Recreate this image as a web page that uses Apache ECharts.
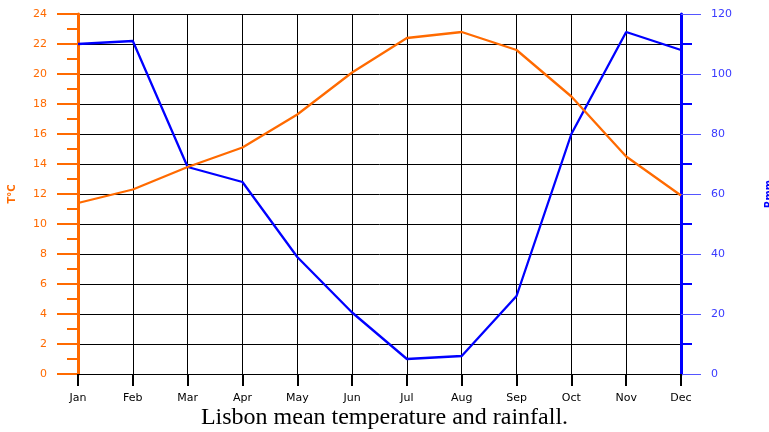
<!DOCTYPE html>
<html>
<head>
<meta charset="utf-8">
<script src="https://cdn.jsdelivr.net/npm/echarts@6/dist/echarts.min.js"></script>
<style>html,body{margin:0;padding:0;background:#fff;}#c{width:769px;height:432px;}</style>
</head>
<body>
<div id="c"></div>
<script>
var months = ['Jan','Feb','Mar','Apr','May','Jun','Jul','Aug','Sep','Oct','Nov','Dec'];
var temperature = [11.4, 12.3, 13.8, 15.1, 17.3, 20.1, 22.4, 22.8, 21.6, 18.5, 14.5, 11.9];
var rainfall = [110, 111, 69, 64, 39, 20.5, 5, 6, 26, 80, 114, 108];
var titleText = 'Lisbon mean temperature and rainfall.';

var ORANGE = '#ff6a00', BLUE = '#0000ff';
var chart = echarts.init(document.getElementById('c'), null, {renderer: 'canvas'});
chart.setOption({
  animation: false,
  backgroundColor: '#fff',
  title: {
    text: titleText, left: 'center', top: 401,
    textStyle: {fontFamily: 'Liberation Serif', fontSize: 24, fontWeight: 'normal', color: '#000'}
  },
  grid: {left: 78, right: 88, top: 14, bottom: 58, containLabel: false, outerBoundsMode: 'none'},
  xAxis: {
    type: 'category', data: months, boundaryGap: false,
    axisLine: {lineStyle: {color: '#000', width: 1}},
    axisTick: {show: true, length: 12, lineStyle: {color: '#000', width: 2}},
    axisLabel: {color: '#000', fontFamily: 'DejaVu Sans', fontSize: 11, margin: 19, interval: 0},
    splitLine: {show: true, lineStyle: {color: '#000', width: 1}}
  },
  yAxis: [{
    type: 'value', position: 'left', min: 0, max: 24, interval: 2,
    name: 'T°C', nameLocation: 'middle', nameRotate: 90, nameGap: 61,
    nameTextStyle: {color: ORANGE, fontFamily: 'DejaVu Sans', fontSize: 10, fontWeight: 'bold'},
    axisLine: {show: true, lineStyle: {color: ORANGE, width: 3}},
    axisTick: {show: true, length: 21, lineStyle: {color: ORANGE, width: 2}},
    minorTick: {show: true, splitNumber: 2, length: 11, lineStyle: {color: ORANGE, width: 2}},
    axisLabel: {color: ORANGE, fontFamily: 'DejaVu Sans', fontSize: 11, margin: 31},
    splitLine: {show: true, lineStyle: {color: '#000', width: 1}}
  }, {
    type: 'value', position: 'right', min: 0, max: 120, interval: 20,
    name: 'Rmm', nameLocation: 'middle', nameRotate: 90, nameGap: 83,
    nameTextStyle: {color: BLUE, fontFamily: 'DejaVu Sans', fontSize: 10, fontWeight: 'bold'},
    axisLine: {show: true, lineStyle: {color: BLUE, width: 3}},
    axisTick: {show: true, length: 20, lineStyle: {color: '#5555ff', width: 1}},
    minorTick: {show: true, splitNumber: 2, length: 11, lineStyle: {color: BLUE, width: 2}},
    axisLabel: {color: '#3a3aff', fontFamily: 'DejaVu Sans', fontSize: 11, margin: 30},
    splitLine: {show: false}
  }],
  series: [{
    name: 'Rainfall', type: 'line', yAxisIndex: 1, data: rainfall,
    showSymbol: false, symbol: 'none', lineStyle: {color: BLUE, width: 2.3}, z: 3
  }, {
    name: 'Temperature', type: 'line', yAxisIndex: 0, data: temperature,
    showSymbol: false, symbol: 'none', lineStyle: {color: ORANGE, width: 2.3}, z: 4
  }]
});
</script>
</body>
</html>
